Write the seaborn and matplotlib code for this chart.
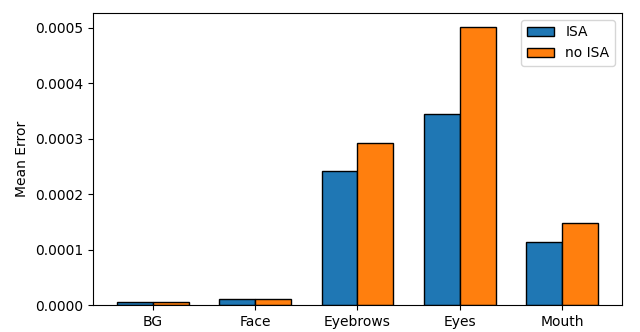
import matplotlib
matplotlib.use("Agg")
import matplotlib.pyplot as plt
import seaborn as sns
import pandas as pd

categories = ["BG", "Face", "Eyebrows", "Eyes", "Mouth"]
isa = [0.0000049, 0.0000110, 0.000242, 0.000345, 0.000114]
no_isa = [0.0000049, 0.0000110, 0.000292, 0.000502, 0.000148]

df = pd.DataFrame({
    "Region": categories * 2,
    "Mean Error": isa + no_isa,
    "Method": ["ISA"] * len(categories) + ["no ISA"] * len(categories),
})

fig, ax = plt.subplots(figsize=(6.4, 3.32), dpi=100)
sns.barplot(data=df, x="Region", y="Mean Error", hue="Method",
            palette=["#1f77b4", "#ff7f0e"], width=0.7, gap=0,
            edgecolor="black", linewidth=1, saturation=1, ax=ax)
ax.set_xlim(-0.585, 4.585)
ax.set_xlabel("")
ax.set_ylabel("Mean Error")
ax.legend(loc="upper right", title=None)
fig.subplots_adjust(left=0.145, right=0.972, top=0.961, bottom=0.081)
fig.savefig("out.png", dpi=100)
